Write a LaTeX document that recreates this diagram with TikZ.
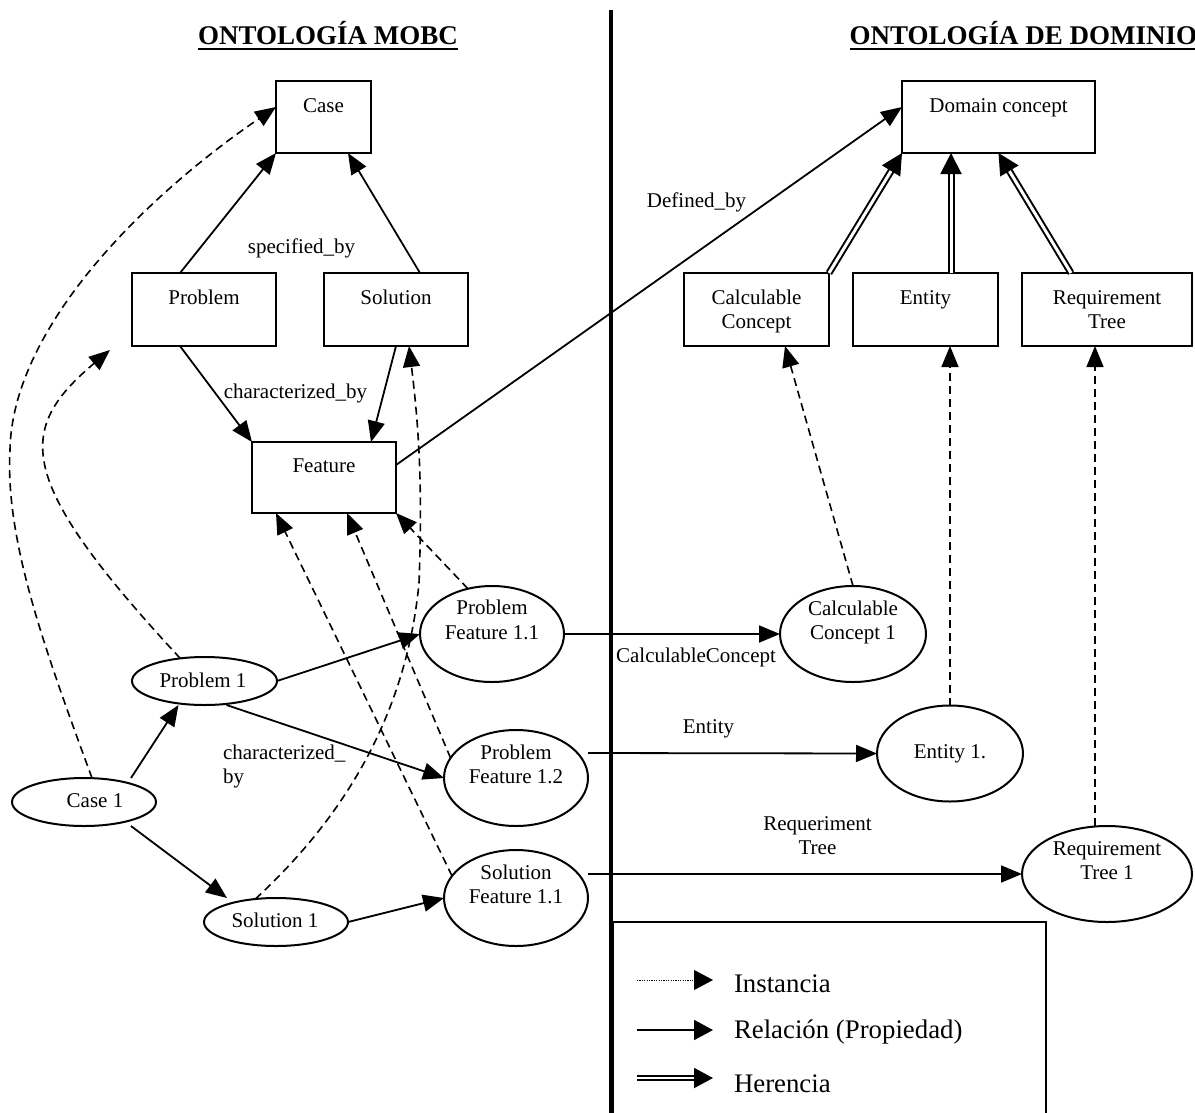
\documentclass[tikz,border=0pt]{standalone}
\usepackage{fontspec}
\setmainfont{Liberation Serif}
\usetikzlibrary{arrows.meta,shapes.geometric}

\begin{document}
\begin{tikzpicture}[x=1pt,y=-1pt,
  every node/.style={inner sep=0pt,outer sep=0pt},
  lbl/.style={font=\fontsize{21}{24}\selectfont, anchor=base},
  lbw/.style={font=\fontsize{21}{24}\selectfont, anchor=base west},
  legtext/.style={font=\fontsize{26.8}{30}\selectfont, anchor=base west},
  ttl/.style={font=\bfseries\fontsize{27}{30}\selectfont},
  cls/.style={draw, line width=2pt, rectangle, minimum width=#1, minimum height=73pt},
  inst/.style={draw, line width=2pt, ellipse, minimum width=144pt, minimum height=#1},
  rel/.style={line width=1.8pt, -{Triangle[length=21pt,width=17pt]}},
  isa/.style={line width=1.6pt, dash pattern=on 8pt off 5pt, -{Triangle[length=21pt,width=17pt]}},
  inh/.style={double, double distance=3pt, line width=2pt, -{Triangle[length=21pt,width=21pt]}},
]
\useasboundingbox (0,0) rectangle (1195,1112);

% ---------- titles ----------
\node[ttl, anchor=base] (t1) at (328,44) {ONTOLOGÍA MOBC};
\draw[line width=2pt] ([yshift=-4.5pt]t1.base west) -- ([yshift=-4.5pt]t1.base east);
\node[ttl, anchor=base west] (t2) at (849.5,44) {ONTOLOGÍA DE DOMINIO};
\draw[line width=2pt] ([yshift=-4.5pt]t2.base west) -- ([yshift=-4.5pt]t2.base east);

% ---------- separator and legend frame ----------
\draw[line width=3.5pt] (611,10) -- (611,1116);
\draw[line width=2pt] (613,1116) -- (613,922) -- (1046,922) -- (1046,1116);

% ---------- classes ----------
\node[cls=95pt, minimum height=72pt] (case) at (323.5,117) {};
\node[cls=144pt] (prob) at (204,309.5) {};
\node[cls=144pt] (sol) at (396,309.5) {};
\node[cls=144pt, minimum height=71pt] (feat) at (324,477.5) {};
\node[cls=193pt, minimum height=72pt] (dom) at (998.5,117) {};
\node[cls=145pt] (calc) at (756.5,309.5) {};
\node[cls=145pt] (ent) at (925.5,309.5) {};
\node[cls=170pt] (req) at (1107,309.5) {};

\node[lbl] (caset) at (323.5,112) {Case};
\node[lbl] (probt) at (204,304) {Problem};
\node[lbl] (solt) at (396,304) {Solution};
\node[lbl] (featt) at (324,472) {Feature};
\node[lbl] (domt) at (998.5,112) {Domain concept};
\node[lbl] (calct1) at (756.5,304) {Calculable};
\node[lbl] (calct2) at (756.5,328) {Concept};
\node[lbl] (entt) at (925.5,304) {Entity};
\node[lbl] (reqt1) at (1107,304) {Requirement};
\node[lbl] (reqt2) at (1107,328) {Tree};

% ---------- instances ----------
\node[inst=48pt] (case1) at (84,802) {};
\node[inst=48pt, minimum width=145pt] (prob1) at (204.5,681) {};
\node[inst=48pt] (sol1) at (276,922) {};
\node[inst=96pt] (pf11) at (492,634) {};
\node[inst=96pt] (pf12) at (516,778) {};
\node[inst=96pt] (sf11) at (516,898) {};
\node[inst=96pt, minimum width=146pt] (cc1) at (853,634) {};
\node[inst=96pt, minimum width=146pt] (ent1) at (950,753.5) {};
\node[inst=96pt, minimum width=170pt] (rt1) at (1107,874) {};

\node[lbl] (case1t) at (95,807) {Case 1};
\node[lbl] (prob1t) at (203,687) {Problem 1};
\node[lbl] (sol1t) at (275,927) {Solution 1};
\node[lbl] (pf11t1) at (492,614) {Problem};
\node[lbl] (pf11t2) at (492,639) {Feature 1.1};
\node[lbl] (pf12t1) at (516,759) {Problem};
\node[lbl] (pf12t2) at (516,783) {Feature 1.2};
\node[lbl] (sf11t1) at (516,879) {Solution};
\node[lbl] (sf11t2) at (516,903) {Feature 1.1};
\node[lbl] (cc1t1) at (853,615) {Calculable};
\node[lbl] (cc1t2) at (853,639) {Concept 1};
\node[lbl] (ent1t) at (950,758) {Entity 1.};
\node[lbl] (rt1t1) at (1107,855) {Requirement};
\node[lbl] (rt1t2) at (1107,879) {Tree 1};

% ---------- relations between classes ----------
\draw[rel] ([xshift=-24pt]prob.north) -- (case.south west);
\draw[rel] ([xshift=24pt]sol.north) -- ([xshift=24.5pt]case.south);
\draw[rel] ([xshift=-24pt]prob.south) -- (feat.north west);
\draw[rel] (sol.south) -- ([xshift=47pt]feat.north);
\draw[rel] ([yshift=12.5pt]feat.east) -- ([yshift=10pt]dom.west);
\node[lbl] (specl) at (301.5,253) {specified\_by};
\node[lbl] (charl) at (295.5,398) {characterized\_by};
\node[lbl] (defl) at (696.5,207) {Defined\_by};

% ---------- inheritance ----------
\draw[inh] (calc.north east) -- (dom.south west);
\draw[inh] ([xshift=25.5pt]ent.north) -- ([xshift=-47.5pt]dom.south);
\draw[inh] ([xshift=-36pt]req.north) -- (dom.south);

% ---------- relations between instances ----------
\draw[rel] ([xshift=47pt]case1.north) -- ([xshift=-26pt]prob1.south);
\draw[rel] ([xshift=47pt]case1.south) -- ([xshift=-49pt]sol1.north);
\draw[rel] (prob1.east) -- (pf11.west);
\draw[rel] ([xshift=22pt]prob1.south) -- (pf12.west);
\draw[rel] (sol1.east) -- (sf11.west);
\draw[rel] (pf11.east) -- (cc1.west);
\draw[rel] ([yshift=25pt]pf12.east) -- (ent1.west);
\draw[rel] ([yshift=24pt]sf11.east) -- (rt1.west);
\node[lbw] (charl2a) at (223,759) {characterized\_};
\node[lbw] (charl2b) at (223,783) {by};
\node[lbl] (ccl) at (696,662) {CalculableConcept};
\node[lbl] (entl) at (708.5,733) {Entity};
\node[lbl] (reql1) at (817.5,830) {Requeriment};
\node[lbl] (reql2) at (817.5,854) {Tree};

% ---------- instance-of links ----------
\draw[isa] ([xshift=8pt]case1.north) .. controls (45,650) and (5,540) .. (10,450)
  .. controls (12,330) and (140,200) .. ([yshift=10pt]case.west);
\draw[isa] (prob1.137) .. controls (15,480) and (15,430) .. ([shift={(-22,4)}]prob.south west);
\draw[isa] (sol1.132) .. controls (330,830) and (405,730) .. (419,583)
  .. controls (423,480) and (418,420) .. ([xshift=13pt]sol.south);
\draw[isa] (pf11.118) -- (feat.south east);
\draw[isa] (pf12.163) -- ([xshift=23pt]feat.south);
\draw[isa] (sf11.161) -- ([xshift=24pt]feat.south west);
\draw[isa] (cc1.north) -- ([xshift=28.5pt]calc.south);
\draw[isa] (ent1.north) -- ([xshift=24.5pt]ent.south);
\draw[isa] ([xshift=-12pt]rt1.north) -- ([xshift=-12pt]req.south);

% ---------- legend ----------
\coordinate (la1) at (637,980);  \coordinate (lb1) at (713,980);
\coordinate (la2) at (637,1030); \coordinate (lb2) at (713,1030);
\coordinate (la3) at (637,1078); \coordinate (lb3) at (713,1078);
\draw[line width=1pt, dash pattern=on 1.2pt off 1.2pt, -{Triangle[length=19pt,width=20pt]}] (la1) -- (lb1);
\draw[line width=1.8pt, -{Triangle[length=19pt,width=20pt]}] (la2) -- (lb2);
\draw[double, double distance=2.5pt, line width=2pt, -{Triangle[length=19pt,width=20pt]}] (la3) -- (lb3);
\node[legtext] (leg1) at (734,992) {Instancia};
\node[legtext] (leg2) at (734,1038) {Relación (Propiedad)};
\node[legtext] (leg3) at (734,1092) {Herencia};
\end{tikzpicture}
\end{document}
